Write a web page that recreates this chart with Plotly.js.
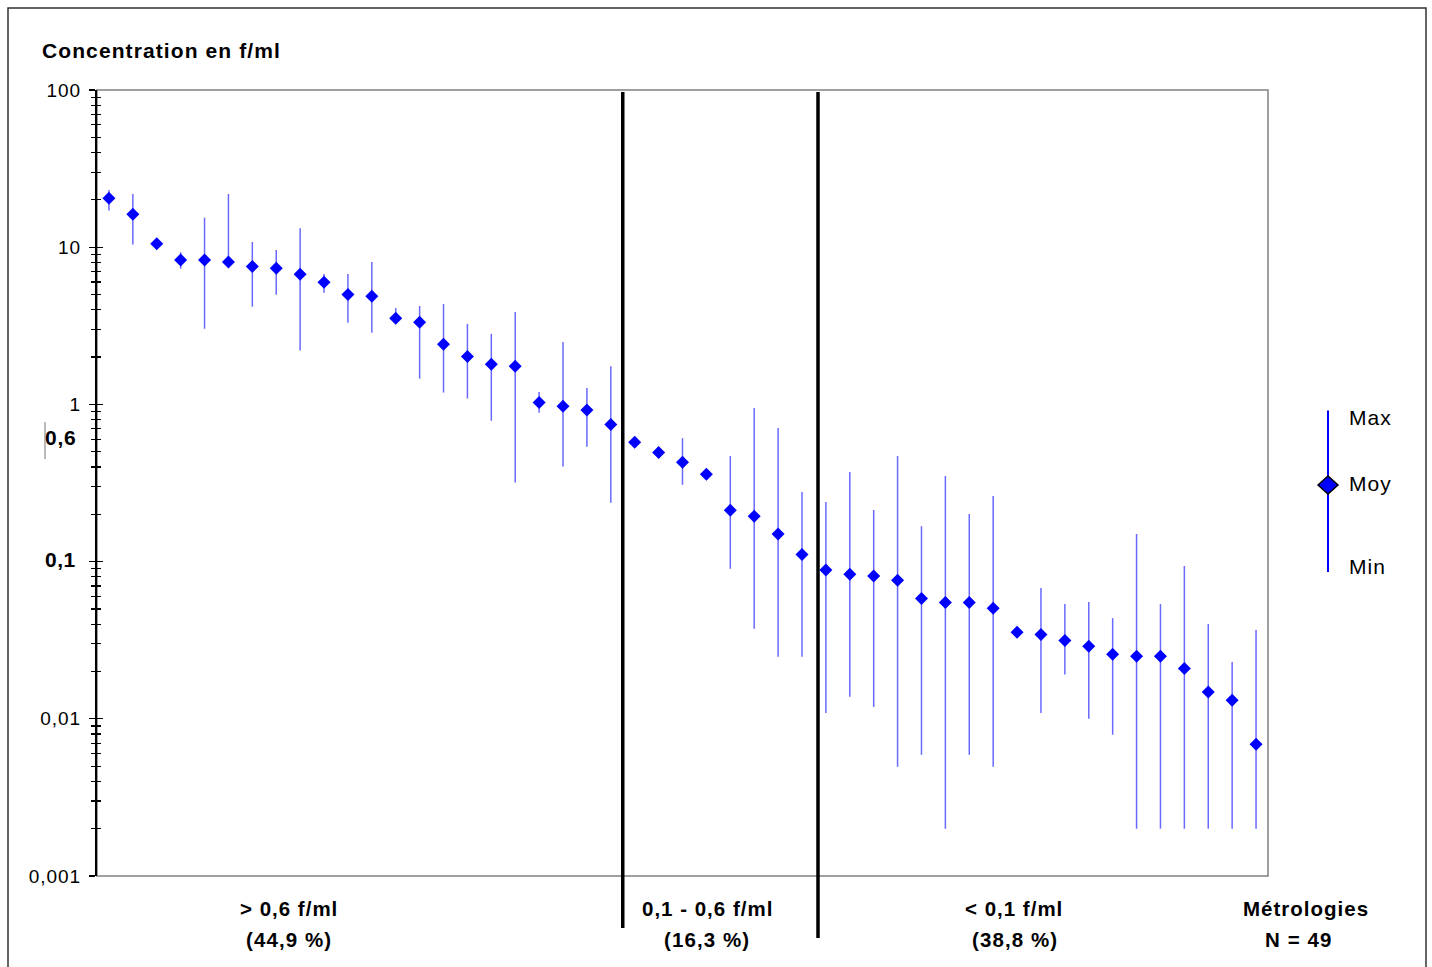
<!DOCTYPE html>
<html>
<head>
<meta charset="utf-8">
<script src="https://cdn.plot.ly/plotly-3.0.1.min.js"></script>
<style>
  html, body { margin: 0; padding: 0; background: #fff; }
  #chart { width: 1432px; height: 967px; }
</style>
</head>
<body>
<div id="chart"></div>
<script>
// ---- data ----
const metrologies = [1,2,3,4,5,6,7,8,9,10,11,12,13,14,15,16,17,18,19,20,21,22,23,24,25,26,27,28,29,30,31,32,33,34,35,36,37,38,39,40,41,42,43,44,45,46,47,48,49];
const moy = [20.5,16.2,10.5,8.3,8.3,8.05,7.55,7.35,6.73,5.98,5.01,4.87,3.53,3.33,2.41,2.02,1.80,1.75,1.03,0.973,0.92,0.746,0.574,0.495,0.428,0.359,0.212,0.194,0.150,0.111,0.0885,0.083,0.081,0.076,0.0583,0.055,0.055,0.0505,0.0355,0.0344,0.0315,0.0289,0.0257,0.025,0.025,0.0209,0.0148,0.0131,0.00689];
const maxv = [23.1,21.8,10.5,9.3,15.4,21.8,10.8,9.6,13.2,6.76,6.76,8.05,4.1,4.23,4.35,3.25,2.81,3.87,1.2,2.49,1.27,1.75,0.574,0.495,0.61,0.359,0.47,0.949,0.708,0.277,0.239,0.371,0.213,0.47,0.168,0.351,0.201,0.261,0.0355,0.068,0.0537,0.0553,0.0437,0.150,0.0537,0.0937,0.0401,0.023,0.0367];
const minv = [17.1,10.4,10.5,7.3,3.03,7.8,4.18,4.99,2.2,5.14,3.31,2.86,3.4,1.46,1.19,1.09,0.787,0.318,0.885,0.402,0.538,0.237,0.574,0.495,0.308,0.359,0.090,0.0374,0.0248,0.0248,0.0109,0.0138,0.0119,0.00495,0.0059,0.002,0.0059,0.00495,0.0355,0.0109,0.0191,0.0100,0.00792,0.002,0.002,0.002,0.002,0.002,0.002];
const seuils = [0.58, 0.1];           // red threshold lines (0,6 and 0,1 f/ml)
const separations = [22.5, 30.67];    // class boundaries between metrologies
const tickVals = [0.001, 0.01, 0.1, 1, 10, 100];
const tickTexts = ['0,001', '0,01', '', '1', '10', '100'];
const classLabels = ['> 0,6 f/ml', '0,1 - 0,6 f/ml', '< 0,1 f/ml', 'Métrologies'];
const classPcts = ['(44,9 %)', '(16,3 %)', '(38,8 %)', 'N = 49'];

const F = 'Liberation Sans, Arial, sans-serif';
const sp = (t, s) => '<span style="letter-spacing:' + s + 'px">' + t + '</span>';

const errPlus = moy.map((m, i) => maxv[i] - m);
const errMinus = moy.map((m, i) => m - minv[i]);

const trace = {
  type: 'scatter', mode: 'markers',
  x: metrologies, y: moy,
  marker: { symbol: 'diamond', size: 10, color: '#0000ff', line: { width: 0 } },
  error_y: { type: 'data', symmetric: false, array: errPlus, arrayminus: errMinus,
             color: 'rgb(105,105,255)', thickness: 1.5, width: 0 },
  showlegend: false, hoverinfo: 'x+y'
};
const ghost = { type: 'scatter', mode: 'markers', x: metrologies, y: moy, yaxis: 'y2',
  marker: { opacity: 0 }, showlegend: false, hoverinfo: 'skip' };

// helpers for pixel → paper coordinates
const L = 97, R = 1268, T = 90, B = 876;
const px = x => (x - L) / (R - L);
const py = y => (B - y) / (B - T);

const shapes = [
  { type: 'rect', xref: 'paper', yref: 'paper', x0: px(8), x1: px(1426), y0: py(972), y1: py(8),
    line: { color: '#333', width: 1.5 }, layer: 'below' },
  { type: 'rect', xref: 'paper', yref: 'paper', x0: 0, x1: 1, y0: 0, y1: 1,
    line: { color: '#808080', width: 1.5 }, layer: 'below' },
  { type: 'line', xref: 'paper', yref: 'paper', x0: px(45), x1: px(45), y0: py(422), y1: py(459),
    line: { color: '#777', width: 1 } },
  { type: 'line', xref: 'paper', yref: 'paper', x0: px(1328), x1: px(1328), y0: py(410.5), y1: py(572),
    line: { color: '#0000ff', width: 2 } },
  { type: 'path', xref: 'paper', yref: 'paper', xsizemode: 'pixel', ysizemode: 'pixel',
    xanchor: px(1328), yanchor: py(485), path: 'M -10 0 L 0 9 L 10 0 L 0 -9 Z',
    fillcolor: '#0000ff', line: { color: '#000', width: 1.5 } }
];
seuils.forEach(v => shapes.push({ type: 'line', xref: 'paper', yref: 'y', x0: 0, x1: 1.001,
  y0: Math.log10(v), y1: Math.log10(v), line: { color: '#ff0000', width: 2 } }));
separations.forEach((v, i) => shapes.push({ type: 'line', xref: 'x', yref: 'paper', x0: v, x1: v,
  y0: py(i === 0 ? 928 : 938), y1: py(92), line: { color: '#000', width: 3.5 } }));

const bold = (size) => ({ family: F, size: size, color: '#000', weight: 'bold' });
const reg = (size) => ({ family: F, size: size, color: '#000' });
const annotations = [
  { xref: 'paper', yref: 'paper', x: px(40), y: py(51), xanchor: 'left', yanchor: 'middle',
    text: sp('Concentration en f/ml', 1.1), showarrow: false, font: bold(21) },
  { xref: 'paper', yref: 'paper', x: px(78), y: py(559.5), xanchor: 'right', yanchor: 'middle',
    text: sp('0,1', 0.5), showarrow: false, font: bold(21) },
  { xref: 'paper', yref: 'paper', x: px(79), y: py(438), xanchor: 'right', yanchor: 'middle',
    text: sp('0,6', 0.8), showarrow: false, font: bold(21) },
  { xref: 'paper', yref: 'paper', x: px(1347), y: py(418), xanchor: 'left', yanchor: 'middle',
    text: sp('Max', 1), showarrow: false, font: reg(21) },
  { xref: 'paper', yref: 'paper', x: px(1347), y: py(483), xanchor: 'left', yanchor: 'middle',
    text: sp('Moy', 1), showarrow: false, font: reg(21) },
  { xref: 'paper', yref: 'paper', x: px(1347), y: py(566), xanchor: 'left', yanchor: 'middle',
    text: sp('Min', 1), showarrow: false, font: reg(21) }
];
const labelX1 = [289, 707, 1014, 1306];
const labelX2 = [289, 707, 1015, 1299];
classLabels.forEach((t, i) => {
  annotations.push({ xref: 'paper', yref: 'paper', x: px(labelX1[i]), y: py(909), xanchor: 'center',
    yanchor: 'middle', text: sp(t, 1), showarrow: false, font: bold(20.5) });
  annotations.push({ xref: 'paper', yref: 'paper', x: px(labelX2[i]), y: py(939), xanchor: 'center',
    yanchor: 'middle', text: sp(classPcts[i], 1.1), showarrow: false, font: bold(20.5) });
});

const layout = {
  width: 1432, height: 967,
  margin: { l: L, r: 1432 - R, t: T, b: 967 - B, pad: 0 },
  paper_bgcolor: '#fff', plot_bgcolor: '#fff',
  separators: ', ',
  showlegend: false,
  xaxis: { range: [0.5, 49.5], showgrid: false, zeroline: false, showticklabels: false,
           ticks: '', showline: false, fixedrange: true },
  yaxis: { type: 'log', range: [-3, 2], showgrid: false, zeroline: false,
           tickmode: 'array', tickvals: tickVals, ticktext: tickTexts.map(t => sp(t, 1)),
           ticks: 'outside', ticklen: 6, tickwidth: 1.2, tickcolor: '#000',
           ticklabelstandoff: 4,
           minor: { ticks: 'outside', ticklen: 4, tickwidth: 1.2, tickcolor: '#000', dtick: 'D1', showgrid: false },
           showline: true, linecolor: '#000', linewidth: 2,
           tickfont: reg(19), fixedrange: true },
  yaxis2: { type: 'log', range: [-3, 2], overlaying: 'y', side: 'left', anchor: 'x',
            showgrid: false, zeroline: false, showticklabels: false,
            tickmode: 'array', tickvals: tickVals,
            ticks: 'inside', ticklen: 6, tickwidth: 1.2, tickcolor: '#000',
            minor: { ticks: 'inside', ticklen: 4, tickwidth: 1.2, tickcolor: '#000', dtick: 'D1', showgrid: false },
            showline: false, fixedrange: true },
  shapes: shapes,
  annotations: annotations
};

Plotly.newPlot('chart', [ghost, trace], layout, { displayModeBar: false, staticPlot: true });
</script>
</body>
</html>
